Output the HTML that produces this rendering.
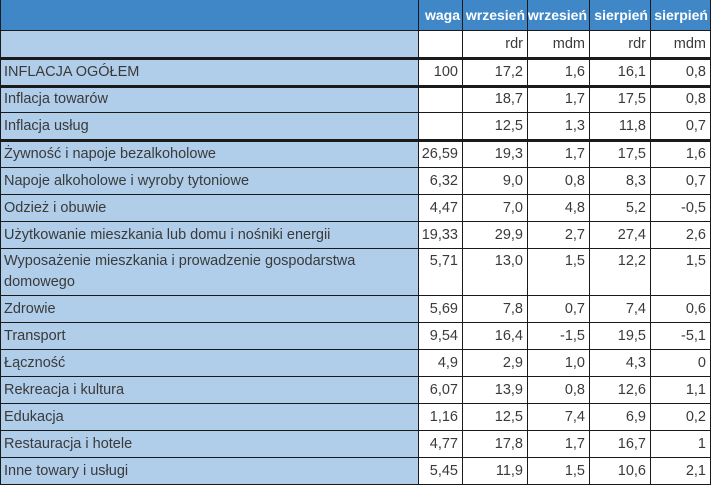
<!DOCTYPE html>
<html><head><meta charset="utf-8">
<style>
body{margin:0;width:711px;height:486px;background:#fff;overflow:hidden;font-family:"Liberation Sans",sans-serif;}
#t{position:absolute;left:0;top:0;width:711px;height:486px;}
.c{position:absolute;box-sizing:border-box;font-size:14.5px;color:#3a3a3a;padding:0 4px;display:flex;align-items:center;white-space:nowrap;}
.r{justify-content:flex-end;}
.hl{position:absolute;background:#1a1a1a;}
</style></head><body>
<div id="t"></div>
<script>
const labels=["INFLACJA OGÓŁEM","Inflacja towarów","Inflacja usług","Żywność i napoje bezalkoholowe","Napoje alkoholowe i wyroby tytoniowe","Odzież i obuwie","Użytkowanie mieszkania lub domu i nośniki energii","Wyposażenie mieszkania i prowadzenie gospodarstwa<br>domowego","Zdrowie","Transport","Łączność","Rekreacja i kultura","Edukacja","Restauracja i hotele","Inne towary i usługi"];
const waga=["100","","","26,59","6,32","4,47","19,33","5,71","5,69","9,54","4,9","6,07","1,16","4,77","5,45"];
const wrzRdr=["17,2","18,7","12,5","19,3","9,0","7,0","29,9","13,0","7,8","16,4","2,9","13,9","12,5","17,8","11,9"];
const wrzMdm=["1,6","1,7","1,3","1,7","0,8","4,8","2,7","1,5","0,7","-1,5","1,0","0,8","7,4","1,7","1,5"];
const sieRdr=["16,1","17,5","11,8","17,5","8,3","5,2","27,4","12,2","7,4","19,5","4,3","12,6","6,9","16,7","10,6"];
const sieMdm=["0,8","0,8","0,7","1,6","0,7","-0,5","2,6","1,5","0,6","-5,1","0","1,1","0,2","1","2,1"];
const head1=["","waga","wrzesień","wrzesień","sierpień","sierpień"];
const head2=["","","rdr","mdm","rdr","mdm"];
const colX=[0,418,462,527,589,650,710];
const rowY=[0,30,58,86,112,140,167,194,221,248,295,322,349,376,403,430,457,484];
const t=document.getElementById('t');
function cell(x0,x1,y0,y1,html,bg,cls,extra){
  const d=document.createElement('div');
  d.className='c '+cls;
  d.style.left=x0+'px';d.style.top=y0+'px';d.style.width=(x1-x0)+'px';d.style.height=(y1-y0)+'px';
  d.style.background=bg;d.innerHTML=html;
  if(extra)d.style.cssText+=extra;
  t.appendChild(d);return d;
}
for(let c=0;c<6;c++){
  const d=cell(colX[c],colX[c+1],0,30,head1[c],'#3f87c7','r','color:#fff;font-weight:bold;padding:0 2px;font-size:14px;');
  
  
  const e=cell(colX[c],colX[c+1],30,58,head2[c],c===0?'#b0cde9':'#fff','r');
  
  
}
const cols=[waga,wrzRdr,wrzMdm,sieRdr,sieMdm];
for(let i=0;i<labels.length;i++){
  const y0=rowY[i+2],y1=rowY[i+3];
  const two=labels[i].indexOf('<br>')>=0;
  const l=cell(0,colX[1],y0,y1,labels[i],'#b0cde9','',two?'align-items:flex-start;padding-top:3px;line-height:21px;white-space:normal;':'');
  
  
  for(let c=0;c<5;c++){
    const v=cell(colX[c+1],colX[c+2],y0,y1,cols[c][i],'#fff','r',two?'align-items:flex-start;padding-top:3px;line-height:21px;':'');
    
    
  }
}
const thick=[58,86,140];
for(let k=1;k<rowY.length;k++){
  const y=rowY[k];const th=thick.includes(y)?3:1;
  const h=document.createElement('div');h.className='hl';
  h.style.left='0px';h.style.width='711px';h.style.top=(y-(th>1?1:0))+'px';h.style.height=th+'px';
  
  
  t.appendChild(h);
}
for(let c=0;c<colX.length;c++){
  const v=document.createElement('div');v.className='hl';
  v.style.left=colX[c]+'px';v.style.width='1px';v.style.top='0px';v.style.height='485px';
  
  
  t.appendChild(v);
}
</script>
</body></html>
